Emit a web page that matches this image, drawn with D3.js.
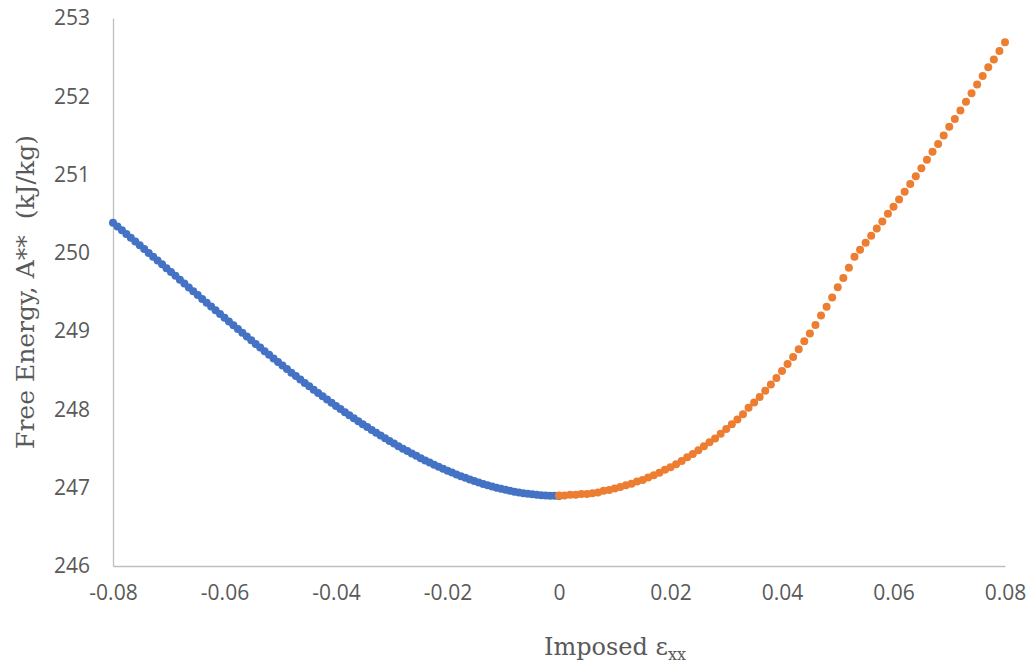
<!DOCTYPE html>
<html>
<head>
<meta charset="utf-8">
<script src="https://cdn.jsdelivr.net/npm/d3@7/dist/d3.min.js"></script>
<style>
  html, body { margin: 0; padding: 0; background: #ffffff; }
  svg { display: block; }
</style>
</head>
<body>
<svg id="chart" width="1029" height="664"></svg>
<script>
// Imposed strain grids (start and step) for the two branches
const compStart = -0.08, compStep = 0.0008;   // compression branch, -0.08 .. 0
const tensStart = 0, tensStep = 0.001;        // tension branch, 0 .. 0.08

// Free energy A** (kJ/kg), compression branch, from -0.08 up to 0
const compEnergy = [
  250.385, 250.338, 250.290, 250.242, 250.193, 250.145, 250.096, 250.048, 249.999, 249.950,
  249.902, 249.853, 249.804, 249.755, 249.706, 249.657, 249.608, 249.559, 249.510, 249.461,
  249.412, 249.364, 249.315, 249.266, 249.218, 249.170, 249.122, 249.074, 249.026, 248.978,
  248.931, 248.884, 248.837, 248.790, 248.743, 248.697, 248.651, 248.606, 248.560, 248.515,
  248.470, 248.426, 248.382, 248.339, 248.295, 248.252, 248.210, 248.168, 248.126, 248.085,
  248.045, 248.004, 247.965, 247.925, 247.887, 247.849, 247.811, 247.774, 247.737, 247.701,
  247.666, 247.631, 247.597, 247.564, 247.531, 247.499, 247.468, 247.437, 247.407, 247.377,
  247.349, 247.321, 247.294, 247.267, 247.242, 247.217, 247.193, 247.170, 247.148, 247.126,
  247.106, 247.086, 247.067, 247.049, 247.032, 247.016, 247.001, 246.987, 246.973, 246.961,
  246.950, 246.940, 246.930, 246.922, 246.915, 246.909, 246.904, 246.900, 246.897, 246.896,
  246.895
];

// Free energy A** (kJ/kg), tension branch, from 0 up to 0.08
const tensEnergy = [
  246.90, 246.90, 246.91, 246.91, 246.92, 246.92, 246.93, 246.94, 246.96, 246.97,
  246.99, 247.01, 247.03, 247.05, 247.08, 247.10, 247.13, 247.16, 247.19, 247.23,
  247.26, 247.30, 247.34, 247.39, 247.43, 247.48, 247.53, 247.58, 247.63, 247.69,
  247.75, 247.81, 247.87, 247.94, 248.02, 248.09, 248.16, 248.24, 248.32, 248.40,
  248.49, 248.58, 248.67, 248.77, 248.87, 248.97, 249.08, 249.20, 249.31, 249.43,
  249.56, 249.68, 249.81, 249.95, 250.04, 250.13, 250.22, 250.31, 250.40, 250.50,
  250.59, 250.68, 250.78, 250.88, 250.98, 251.08, 251.19, 251.29, 251.39, 251.50,
  251.61, 251.71, 251.82, 251.93, 252.04, 252.15, 252.26, 252.37, 252.47, 252.58,
  252.69
];

// Axis ticks
const xTicks = [-0.08, -0.06, -0.04, -0.02, 0, 0.02, 0.04, 0.06, 0.08];
const xTickLabels = ["-0.08", "-0.06", "-0.04", "-0.02", "0", "0.02", "0.04", "0.06", "0.08"];
const yTicks = [246, 247, 248, 249, 250, 251, 252, 253];

const compPoints = compEnergy.map((v, i) => ({ x: compStart + i * compStep, y: v }));
const tensPoints = tensEnergy.map((v, i) => ({ x: tensStart + i * tensStep, y: v }));

const svg = d3.select("#chart");
const plotLeft = 113, plotRight = 1005, plotTop = 18, plotBottom = 566;

const x = d3.scaleLinear().domain([-0.08, 0.08]).range([plotLeft, plotRight]);
const y = d3.scaleLinear().domain([246, 253]).range([plotBottom, plotTop]);

const axisColor = "#bfbfbf";
const textColor = "#595959";
const tickFont = "'Open Sans', 'Noto Sans', sans-serif";
const titleFont = "'DejaVu Serif', 'Liberation Serif', serif";

// Y axis
const yAxis = svg.append("g")
  .attr("transform", `translate(${plotLeft},0)`)
  .call(d3.axisLeft(y).tickValues(yTicks).tickSize(0).tickPadding(23).tickFormat(d3.format("d")));
yAxis.select(".domain").attr("stroke", axisColor).attr("stroke-width", 1.3);
yAxis.selectAll("text")
  .attr("fill", textColor)
  .style("font-family", tickFont)
  .style("font-size", "21px");

// X axis
const xAxis = svg.append("g")
  .attr("transform", `translate(0,${plotBottom})`)
  .call(d3.axisBottom(x).tickValues(xTicks).tickSize(0).tickPadding(19)
    .tickFormat((d, i) => xTickLabels[i]));
xAxis.select(".domain").attr("stroke", axisColor).attr("stroke-width", 1.3);
xAxis.selectAll("text")
  .attr("fill", textColor)
  .style("font-family", tickFont)
  .style("font-size", "21px");

// Compression branch markers
svg.append("g")
  .selectAll("circle")
  .data(compPoints)
  .join("circle")
  .attr("cx", d => x(d.x))
  .attr("cy", d => y(d.y))
  .attr("r", 4)
  .attr("fill", "#4472c4");

// Tension branch markers
svg.append("g")
  .selectAll("circle")
  .data(tensPoints)
  .join("circle")
  .attr("cx", d => x(d.x))
  .attr("cy", d => y(d.y))
  .attr("r", 4)
  .attr("fill", "#ed7d31");

// Axis titles
svg.append("text")
  .attr("transform", `translate(34,${(plotTop + plotBottom) / 2}) rotate(-90)`)
  .attr("text-anchor", "middle")
  .attr("fill", textColor)
  .style("font-family", titleFont)
  .style("font-size", "25px")
  .attr("xml:space", "preserve")
  .text("Free Energy, A**  (kJ/kg)");

const xTitle = svg.append("text")
  .attr("x", 615)
  .attr("y", 655)
  .attr("text-anchor", "middle")
  .attr("fill", textColor)
  .style("font-family", titleFont)
  .style("font-size", "24px");
xTitle.append("tspan").text("Imposed ε");
xTitle.append("tspan").attr("dy", 5).style("font-size", "16px").text("xx");
</script>
</body>
</html>
